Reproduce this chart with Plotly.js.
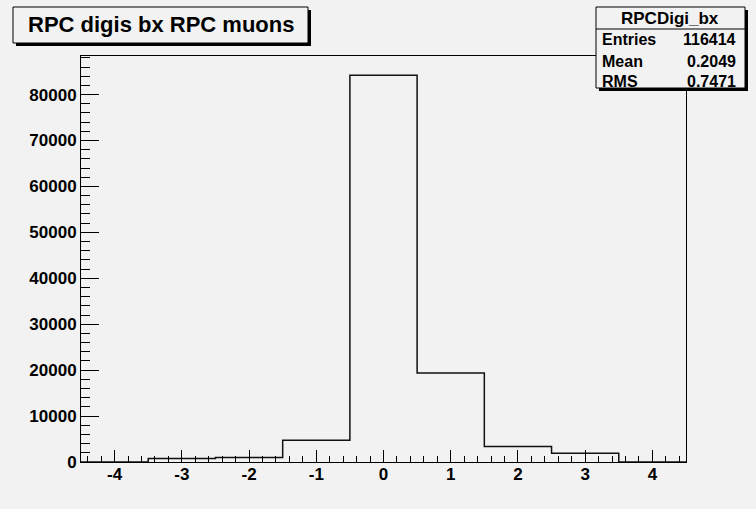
<!DOCTYPE html>
<html>
<head>
<meta charset="utf-8">
<script src="https://cdn.plot.ly/plotly-3.0.1.min.js"></script>
<style>
html,body{margin:0;padding:0;background:#f2f2f2;}
#chart{width:756px;height:509px;}
</style>
</head>
<body>
<div id="chart"></div>
<script>
// ---- data ----
var binCenters = [-4, -3, -2, -1, 0, 1, 2, 3, 4];
var binWidth = 1;
var counts = [0, 740, 960, 4730, 84200, 19400, 3400, 1900, 0];
var yTickVals = [0, 10000, 20000, 30000, 40000, 50000, 60000, 70000, 80000];
var xTickVals = [-4, -3, -2, -1, 0, 1, 2, 3, 4];
var titleText = "RPC digis bx RPC muons";
var statsName = "RPCDigi_bx";
var statsLabels = ["Entries", "Mean", "RMS"];
var statsValues = ["116414", "0.2049", "0.7471"];

// ---- step outline built from bins ----
var xs = [], ys = [];
xs.push(binCenters[0] - binWidth / 2); ys.push(0);
for (var i = 0; i < binCenters.length; i++) {
  xs.push(binCenters[i] - binWidth / 2); ys.push(counts[i]);
  xs.push(binCenters[i] + binWidth / 2); ys.push(counts[i]);
}
xs.push(binCenters[binCenters.length - 1] + binWidth / 2); ys.push(0);

// ---- pixel helpers (layout geometry) ----
var W = 756, H = 509, ML = 81, MR = 70, MT = 56, MB = 47;
var PW = W - ML - MR, PH = H - MT - MB;
function px(x) { return (x - ML) / PW; }
function py(y) { return (H - MB - y) / PH; }

var font = "Liberation Sans, Arial, Helvetica, sans-serif";
var bg = "#f2f2f2";

var shapes = [];
var annotations = [];
function box(x0, y0, x1, y1) {
  shapes.push({type: "rect", xref: "paper", yref: "paper",
    x0: px(x0 + 3), x1: px(x1 + 3), y0: py(y1 + 3), y1: py(y0 + 3),
    fillcolor: "#000", line: {width: 0}, layer: "above"});
  shapes.push({type: "rect", xref: "paper", yref: "paper",
    x0: px(x0), x1: px(x1), y0: py(y1), y1: py(y0),
    fillcolor: bg, line: {color: "#000", width: 1}, layer: "above"});
}

// title box
box(13, 7, 308, 43);
annotations.push({xref: "paper", yref: "paper", x: px(160.5), y: py(25),
  xanchor: "center", yanchor: "middle", showarrow: false, text: "<b>" + titleText + "</b>",
  font: {family: font, size: 22, color: "#000"}});

// stats box
box(596, 7, 745, 88);
shapes.push({type: "line", xref: "paper", yref: "paper",
  x0: px(596), x1: px(745), y0: py(29), y1: py(29), line: {color: "#000", width: 1}, layer: "above"});
annotations.push({xref: "paper", yref: "paper", x: px(670), y: py(18),
  xanchor: "center", yanchor: "middle", showarrow: false, text: "<b>" + statsName + "</b>",
  font: {family: font, size: 17, color: "#000"}});
var rowY = [39, 61, 81];
for (var r = 0; r < statsLabels.length; r++) {
  annotations.push({xref: "paper", yref: "paper", x: px(600), y: py(rowY[r]),
    xanchor: "left", yanchor: "middle", showarrow: false, text: "<b>" + statsLabels[r] + "</b>",
    font: {family: font, size: 16, color: "#000"}});
  annotations.push({xref: "paper", yref: "paper", x: px(738), y: py(rowY[r]),
    xanchor: "right", yanchor: "middle", showarrow: false, text: "<b>" + statsValues[r] + "</b>",
    font: {family: font, size: 16, color: "#000"}});
}

var trace = {
  type: "scatter", mode: "lines", x: xs, y: ys,
  line: {color: "#111", width: 1.5, shape: "linear"},
  hoverinfo: "skip", showlegend: false
};

var layout = {
  width: W, height: H,
  margin: {l: ML, r: MR, t: MT, b: MB, pad: 0},
  paper_bgcolor: bg, plot_bgcolor: bg,
  font: {family: font, color: "#000"},
  showlegend: false,
  xaxis: {
    range: [-4.5, 4.5], showgrid: false, zeroline: false,
    showline: true, linecolor: "#000", linewidth: 1, mirror: true,
    ticks: "inside", ticklen: 12, tickwidth: 1, tickcolor: "#000",
    tickvals: xTickVals, ticktext: xTickVals.map(function (v) { return "<b>" + v + "</b>"; }),
    tickfont: {family: font, size: 17, color: "#000"},
    ticklabelstandoff: -3,
    minor: {dtick: 0.2, tick0: 0, ticks: "inside", ticklen: 6, tickwidth: 1, tickcolor: "#000", showgrid: false}
  },
  yaxis: {
    range: [0, 88400], showgrid: false, zeroline: false,
    showline: true, linecolor: "#000", linewidth: 1, mirror: true,
    ticks: "inside", ticklen: 18, tickwidth: 1, tickcolor: "#000",
    tickvals: yTickVals, ticktext: yTickVals.map(function (v) { return "<b>" + v + "</b>"; }),
    tickfont: {family: font, size: 17, color: "#000"},
    minor: {dtick: 2000, tick0: 0, ticks: "inside", ticklen: 9, tickwidth: 1, tickcolor: "#000", showgrid: false}
  },
  shapes: shapes,
  annotations: annotations
};

Plotly.newPlot("chart", [trace], layout, {displayModeBar: false, staticPlot: true});
</script>
</body>
</html>
